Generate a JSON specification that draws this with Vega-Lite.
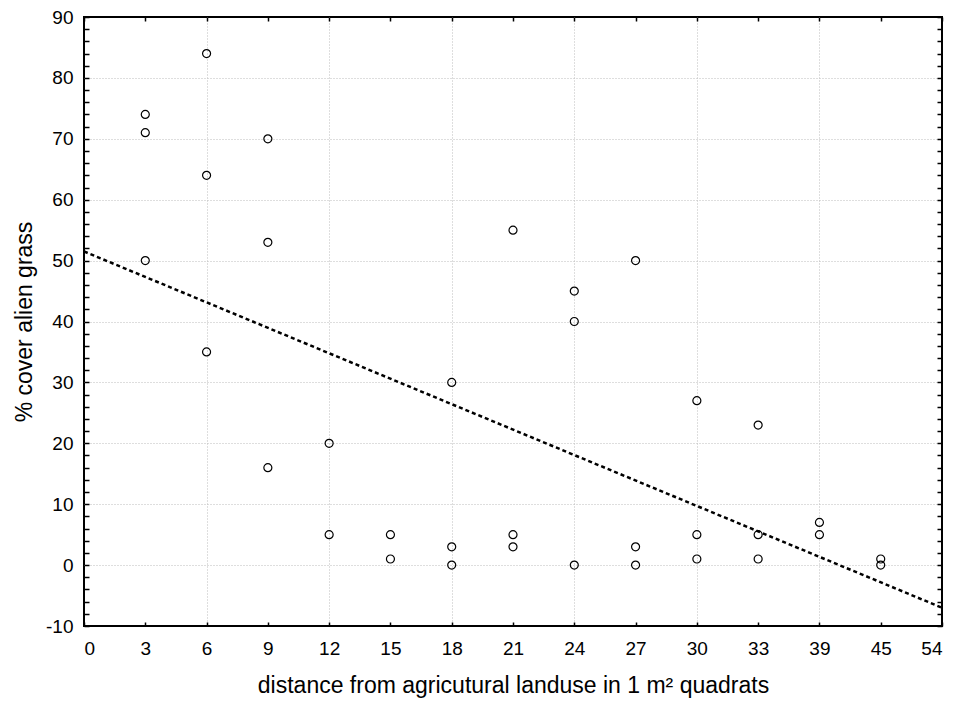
{
  "$schema": "https://vega.github.io/schema/vega-lite/v6.json",
  "width": 858,
  "height": 609,
  "autosize": {"type": "none"},
  "padding": {"left": 84, "top": 17, "right": 19, "bottom": 84},
  "background": "white",
  "config": {
    "view": {"stroke": "black", "strokeWidth": 2},
    "axis": {"labelFont": "Liberation Sans", "titleFont": "Liberation Sans", "labelColor": "black", "titleColor": "black", "titleFontWeight": "normal", "labelFontSize": 19, "titleFontSize": 23, "domain": false, "tickColor": "black", "tickWidth": 1.5}
  },
  "datasets": {
    "points": [
      {"pos": 3, "cover": 74}, {"pos": 3, "cover": 71}, {"pos": 3, "cover": 50},
      {"pos": 6, "cover": 84}, {"pos": 6, "cover": 64}, {"pos": 6, "cover": 35},
      {"pos": 9, "cover": 70}, {"pos": 9, "cover": 53}, {"pos": 9, "cover": 16},
      {"pos": 12, "cover": 20}, {"pos": 12, "cover": 5},
      {"pos": 15, "cover": 5}, {"pos": 15, "cover": 1},
      {"pos": 18, "cover": 30}, {"pos": 18, "cover": 3}, {"pos": 18, "cover": 0},
      {"pos": 21, "cover": 55}, {"pos": 21, "cover": 5}, {"pos": 21, "cover": 3},
      {"pos": 24, "cover": 45}, {"pos": 24, "cover": 40}, {"pos": 24, "cover": 0},
      {"pos": 27, "cover": 50}, {"pos": 27, "cover": 3}, {"pos": 27, "cover": 0},
      {"pos": 30, "cover": 27}, {"pos": 30, "cover": 5}, {"pos": 30, "cover": 1},
      {"pos": 33, "cover": 23}, {"pos": 33, "cover": 5}, {"pos": 33, "cover": 1},
      {"pos": 36, "cover": 7}, {"pos": 36, "cover": 5},
      {"pos": 39, "cover": 1}, {"pos": 39, "cover": 0}
    ],
    "fit": [
      {"pos": 0, "cover": 51.5},
      {"pos": 42, "cover": -7}
    ]
  },
  "resolve": {"axis": {"x": "independent", "y": "independent"}},
  "layer": [
    {
      "data": {"name": "fit"},
      "mark": {"type": "line", "strokeOpacity": 0},
      "encoding": {
        "x": {"field": "pos", "type": "quantitative", "scale": {"domain": [0, 42], "nice": false, "zero": false},
          "axis": {"orient": "bottom", "values": [6, 12, 18, 24, 30, 36], "grid": true, "gridColor": "#bdbdbd", "gridDash": [1, 2], "gridWidth": 1, "ticks": false, "labels": false, "title": null}},
        "y": {"field": "cover", "type": "quantitative", "scale": {"domain": [-10, 90], "nice": false, "zero": false},
          "axis": {"orient": "left", "values": [0, 10, 20, 30, 40, 50, 60, 70, 80], "grid": true, "gridColor": "#bdbdbd", "gridDash": [1, 2], "gridWidth": 1, "ticks": false, "labels": false, "title": null}}
      }
    },
    {
      "data": {"name": "points"},
      "mark": {"type": "point", "shape": "circle", "filled": false, "color": "black", "size": 64, "strokeWidth": 1.2, "opacity": 1},
      "encoding": {
        "x": {"field": "pos", "type": "quantitative",
          "axis": {"orient": "bottom", "values": [0, 3, 6, 9, 12, 15, 18, 21, 24, 27, 30, 33, 36, 39, 42], "grid": false, "tickSize": -4, "labelPadding": 17,
            "labelExpr": "datum.value == 36 ? '39' : datum.value == 39 ? '45' : datum.value == 42 ? '54' : datum.label",
            "title": "distance from agricutural landuse in 1 m² quadrats", "titlePadding": 16}},
        "y": {"field": "cover", "type": "quantitative",
          "axis": {"orient": "left", "values": [-10, -8, -6, -4, -2, 0, 2, 4, 6, 8, 10, 12, 14, 16, 18, 20, 22, 24, 26, 28, 30, 32, 34, 36, 38, 40, 42, 44, 46, 48, 50, 52, 54, 56, 58, 60, 62, 64, 66, 68, 70, 72, 74, 76, 78, 80, 82, 84, 86, 88, 90],
            "grid": false, "tickSize": -5, "labelPadding": 16,
            "labelExpr": "datum.value % 10 == 0 ? toString(datum.value) : ''",
            "title": "% cover alien grass", "titlePadding": 9}}
      }
    },
    {
      "data": {"name": "fit"},
      "mark": {"type": "line", "color": "black", "strokeWidth": 2.5, "strokeDash": [4, 3]},
      "encoding": {
        "x": {"field": "pos", "type": "quantitative",
          "axis": {"orient": "top", "values": [0, 3, 6, 9, 12, 15, 18, 21, 24, 27, 30, 33, 36, 39, 42], "grid": false, "tickSize": -4, "labels": false, "title": null}},
        "y": {"field": "cover", "type": "quantitative",
          "axis": {"orient": "right", "values": [-10, -8, -6, -4, -2, 0, 2, 4, 6, 8, 10, 12, 14, 16, 18, 20, 22, 24, 26, 28, 30, 32, 34, 36, 38, 40, 42, 44, 46, 48, 50, 52, 54, 56, 58, 60, 62, 64, 66, 68, 70, 72, 74, 76, 78, 80, 82, 84, 86, 88, 90],
            "grid": false, "tickSize": -5, "labels": false, "title": null}}
      }
    }
  ]
}
